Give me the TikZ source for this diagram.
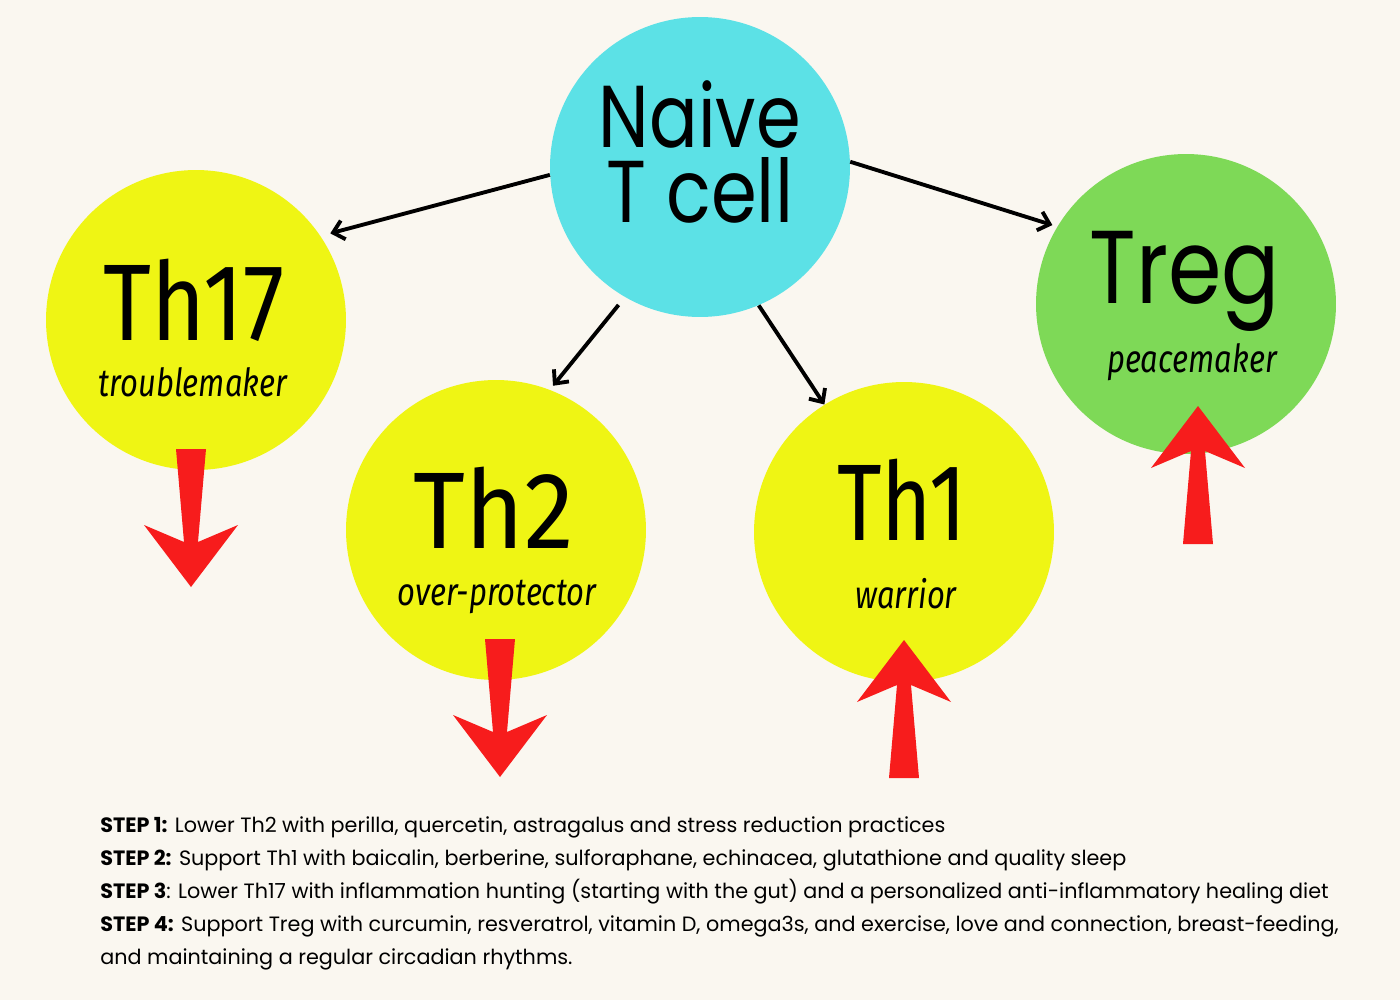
\documentclass[tikz,border=0pt]{standalone}
\usepackage{fontspec}
\usepackage{graphicx}
\setmainfont{Poppins}
\newfontfamily\headfont{Poppins}
\newfontfamily\thfont{Fira Sans}
\usetikzlibrary{arrows.meta}
\definecolor{paper}{HTML}{FAF7F0}
\definecolor{naivecyan}{HTML}{5CE1E6}
\definecolor{thyellow}{HTML}{EFF514}
\definecolor{treggreen}{HTML}{7ED957}
\definecolor{downred}{HTML}{F71C1C}
\tikzset{
  cell/.style={circle, minimum size=6cm, inner sep=0pt},
  headname/.style={anchor=base, inner sep=0pt, font=\headfont\fontsize{50}{42.7}\selectfont},
  thname/.style={anchor=base, inner sep=0pt, font=\thfont\fontsize{62}{62}\selectfont},
  role/.style={anchor=base, inner sep=0pt, font=\thfont\itshape\fontsize{22}{22}\selectfont},
  link/.style={line width=2.2pt, -{Straight Barb[length=6pt, width=11pt, line width=2.2pt]}},
  steptext/.style={anchor=base west, inner sep=0pt, font=\fontsize{11.8}{14}\selectfont}
}
\begin{document}
\begin{tikzpicture}[x=0.02cm, y=-0.02cm]
	\fill[paper] (0,0) rectangle (1400,1000);
	\useasboundingbox (0,0) rectangle (1400,1000);
	% the five cells
	\node[cell, fill=naivecyan] (naive) at (700,167) {};
	\node[cell, fill=thyellow] (th17) at (196,320) {};
	\node[cell, fill=thyellow] (th2) at (496,530) {};
	\node[cell, fill=thyellow] (th1) at (904,532) {};
	\node[cell, fill=treggreen] (treg) at (1186,304) {};
	% names and roles
	\node[headname, align=center] (naivename) at (700,223) {\scalebox{0.82}[1]{Naive}\\\scalebox{0.84}[1]{T cell}};
	\node[headname, font=\headfont\fontsize{59}{59}\selectfont] (tregname) at (1185,303) {\scalebox{0.83}[1]{Treg}};
	\node[thname] (th17name) at (194,340) {\scalebox{0.85}[1]{Th17}};
	\node[thname] (th2name) at (494,548) {\scalebox{0.92}[1]{Th2}};
	\node[thname] (th1name) at (902,540) {\scalebox{0.79}[1]{Th1}};
	\node[role] (th17role) at (193,397) {\scalebox{0.8}[1]{troublemaker}};
	\node[role] (th2role) at (497,605) {\scalebox{0.8}[1]{over-protector}};
	\node[role] (th1role) at (906,608) {\scalebox{0.8}[1]{warrior}};
	\node[role] (tregrole) at (1192,372) {\scalebox{0.8}[1]{peacemaker}};
	% black links
	\draw[link, shorten >=0.2cm] (naive.183.4) -- (th17.34.6);
	\draw[link, shorten <=0.2cm, shorten >=0.1cm] (naive.240.3) -- (th2.69.4);
	\draw[link] (naive.293.8) -- (th1.122.3);
	\draw[link, shorten >=0.1cm] (naive.2.3) -- (treg.149.3);
	% red up and down arrows
	\foreach \x/\y/\s in {191/587/1, 500/777/1, 904/640/-1, 1198/406/-1}
		\fill[downred] (\x,\y) -- ({\x+47},{\y-62*\s}) -- ({\x+7},{\y-45*\s}) -- ({\x+15},{\y-138*\s})
			-- ({\x-15},{\y-138*\s}) -- ({\x-7},{\y-45*\s}) -- ({\x-47},{\y-62*\s}) -- cycle;
	% the four steps
	\node[steptext] (step1) at (100,832) {\textbf{STEP 1:} Lower Th2 with perilla, quercetin, astragalus and stress reduction practices};
	\node[steptext] (step2) at (100,865) {\textbf{STEP 2:} Support Th1 with baicalin, berberine, sulforaphane, echinacea, glutathione and quality sleep};
	\node[steptext] (step3) at (100,898) {\textbf{STEP 3}: Lower Th17 with inflammation hunting (starting with the gut) and a personalized anti-inflammatory healing diet};
	\node[steptext] (step4) at (100,931) {\textbf{STEP 4:} Support Treg with curcumin, resveratrol, vitamin D, omega3s, and exercise, love and connection, breast-feeding,};
	\node[steptext] (step5) at (100,964) {and maintaining a regular circadian rhythms.};
\end{tikzpicture}
\end{document}
